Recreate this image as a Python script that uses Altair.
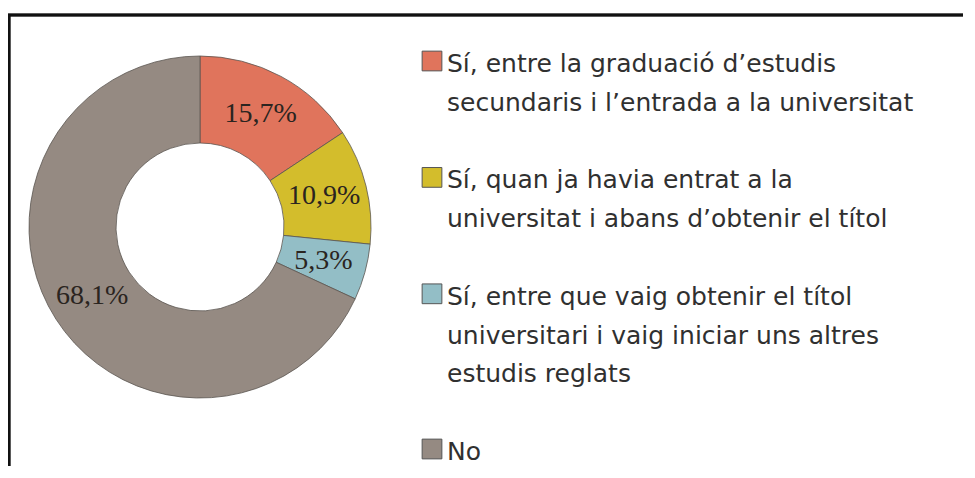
import altair as alt
import pandas as pd

# ---- data ----
categories = [
    "Sí, entre la graduació d’estudis secundaris i l’entrada a la universitat",
    "Sí, quan ja havia entrat a la universitat i abans d’obtenir el títol",
    "Sí, entre que vaig obtenir el títol universitari i vaig iniciar uns altres estudis reglats",
    "No",
]
values = [15.7, 10.9, 5.3, 68.1]
value_labels = ["15,7%", "10,9%", "5,3%", "68,1%"]
legend_lines = [
    ["Sí, entre la graduació d’estudis", "secundaris i l’entrada a la universitat"],
    ["Sí, quan ja havia entrat a la", "universitat i abans d’obtenir el títol"],
    ["Sí, entre que vaig obtenir el títol", "universitari i vaig iniciar uns altres", "estudis reglats"],
    ["No"],
]
colors = ["#E0745C", "#D3BD2C", "#93BEC6", "#958A82"]

# ---- tables built from the arrays ----
pie = pd.DataFrame({
    "cat": categories,
    "value": values,
    "label": value_labels,
    "order": list(range(len(categories))),
})

rows_text = []
rows_sym = []
row = 0
for i, lines in enumerate(legend_lines):
    rows_sym.append({"cat": categories[i], "row": row})
    for ln in lines:
        rows_text.append({"text": ln, "row": row})
        row += 1
    row += 1
legend_text = pd.DataFrame(rows_text)
legend_sym = pd.DataFrame(rows_sym)

W, H = 955, 458
CX, CY = 192, 219

color_scale = alt.Scale(domain=categories, range=colors)
yscale = alt.Scale(domain=[0, 10], range=[64, 452])

base = alt.Chart(pie)

donut = base.mark_arc(
    outerRadius=171, innerRadius=84, stroke="#5a5550", strokeWidth=0.8
).encode(
    theta=alt.Theta("value:Q", stack=True),
    color=alt.Color("cat:N", scale=color_scale, legend=None),
    order=alt.Order("order:Q"),
    x=alt.value(CX),
    y=alt.value(CY),
)

labels = base.mark_text(
    font="Liberation Serif", fontSize=28, color="#2a2420", baseline="middle", align="center"
).encode(
    theta=alt.Theta("value:Q", stack=True),
    order=alt.Order("order:Q"),
    text="label:N",
    radius=alt.value(128),
    x=alt.value(CX),
    y=alt.value(CY),
)

leg_syms = alt.Chart(legend_sym).mark_square(
    size=390, stroke="#555555", strokeWidth=1, opacity=1, yOffset=-11
).encode(
    x=alt.value(424),
    y=alt.Y("row:Q", scale=yscale, axis=None),
    fill=alt.Fill("cat:N", scale=color_scale, legend=None),
)

leg_text = alt.Chart(legend_text).mark_text(
    font="DejaVu Sans", fontSize=25, color="#303030", align="left", baseline="alphabetic"
).encode(
    x=alt.value(439),
    y=alt.Y("row:Q", scale=yscale, axis=None),
    text="text:N",
)

frame_top = alt.Chart(pie).mark_rule(color="#111111", strokeWidth=2.5).encode(
    x=alt.value(0), x2=alt.value(W), y=alt.value(7)
)
frame_left = alt.Chart(pie).mark_rule(color="#111111", strokeWidth=2.5).encode(
    x=alt.value(1), y=alt.value(7), y2=alt.value(H)
)

chart = alt.layer(donut, labels, leg_syms, leg_text, frame_top, frame_left).properties(
    width=W, height=H, padding=0, autosize=alt.AutoSizeParams(type="none")
).configure_view(stroke=None)

chart.save("out.html", embed_options={"renderer": "svg", "actions": False})
